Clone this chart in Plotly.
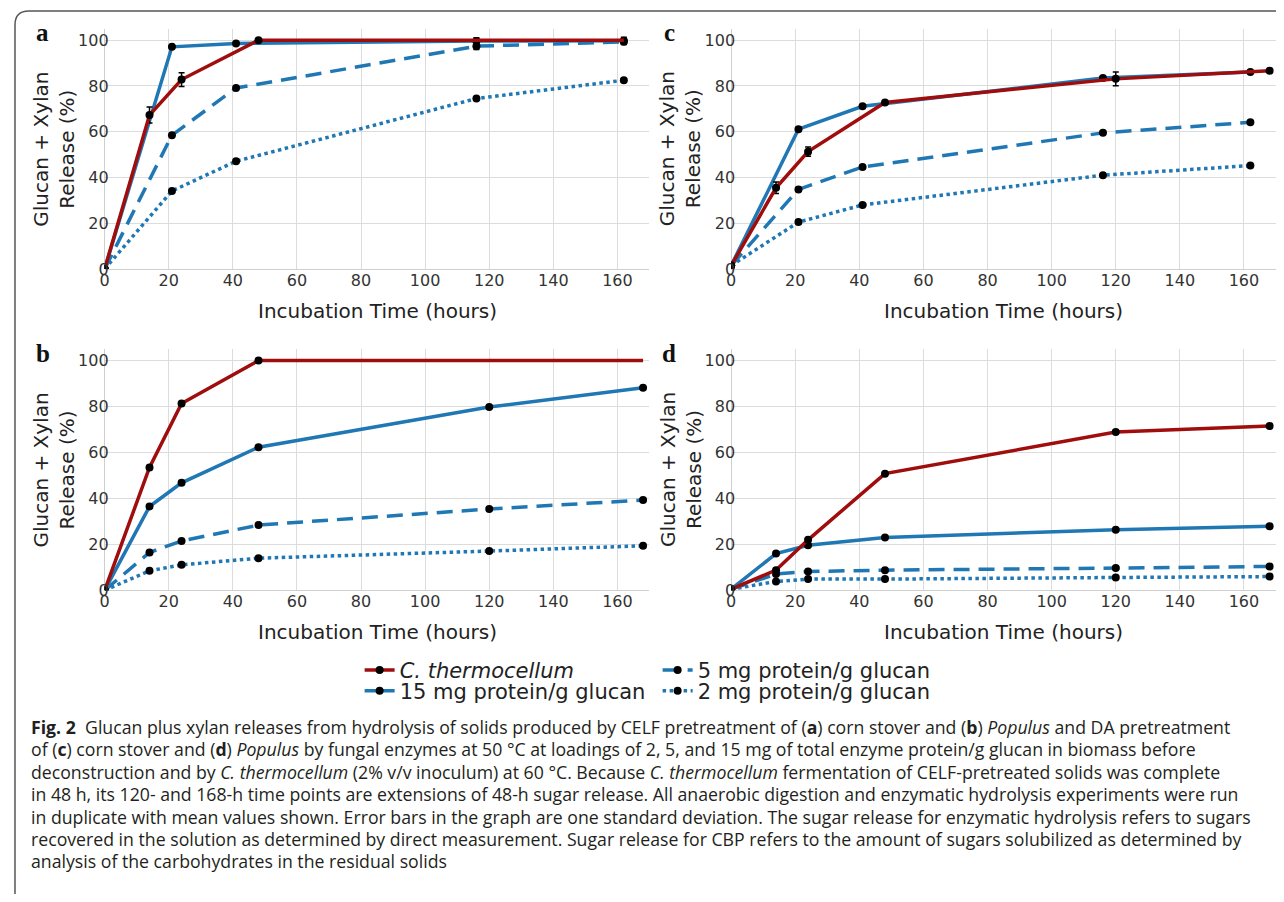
import plotly.graph_objects as go

# the page body has an 8px margin: size the figure so it fits the window
OFF = 8
FW, FH = 1284 - 2 * OFF, 902 - 2 * OFF


def px(p):
    return (p - OFF) / FW


def py(p):
    return 1 - (p - OFF) / FH


RED = "#a00d0d"
BLUE = "#1f77b4"

# ---------------- data ----------------
# Panel a: CELF corn stover
a_time_cbp = [0, 14, 24, 48]
a_cbp = [0, 67.3, 82.8, 100]
a_cbp_err = [None, 3.5, 3.0, None]
a_time_ext = [48, 116, 162]          # extension of the 48-h release
a_cbp_ext = [100, 100, 100]
a_time_enz = [0, 21, 41, 116, 162]
a_15 = [0, 97.1, 98.6, 99.6, 99.8]
a_15_err = [None, None, None, 1.5, 1.5]
a_5 = [0, 58.5, 79.1, 97.4, 99.3]
a_5_err = [None, None, None, 1.5, 1.2]
a_2 = [0, 34.1, 47.1, 74.5, 82.5]

# Panel c: DA corn stover
c_time_cbp = [0, 14, 24, 48, 120, 168]
c_cbp = [1.5, 35.5, 51.3, 72.8, 83.1, 86.7]
c_cbp_err = [None, 2.5, 2.0, None, 3.0, None]
c_time_enz = [0, 21, 41, 116, 162]
c_15 = [1.5, 61.1, 71.1, 83.5, 86.1]
c_5 = [1.5, 34.8, 44.6, 59.5, 64.1]
c_2 = [1.5, 20.5, 28.0, 41.0, 45.2]

# Panel b: CELF Populus
b_time_cbp = [0, 14, 24, 48]
b_cbp = [0, 53.5, 81.3, 100]
b_time_ext = [48, 120, 168]
b_cbp_ext = [100, 100, 100]
b_time = [0, 14, 24, 48, 120, 168]
b_15 = [0, 36.5, 46.8, 62.3, 79.8, 88.2]
b_5 = [0, 16.5, 21.5, 28.4, 35.4, 39.3]
b_2 = [0, 8.5, 11.1, 14.0, 17.1, 19.4]

# Panel d: DA Populus
d_time = [0, 14, 24, 48, 120, 168]
d_cbp = [0.5, 8.8, 22.0, 50.8, 68.9, 71.5]
d_15 = [0.5, 16.0, 19.6, 23.0, 26.4, 27.9]
d_5 = [0.5, 7.1, 8.2, 8.8, 9.7, 10.4]
d_2 = [0.5, 3.9, 4.9, 4.9, 5.6, 6.0]

series_names = ["<i>C. thermocellum</i>", "15 mg protein/g glucan",
                "5 mg protein/g glucan", "2 mg protein/g glucan"]
x_ticks = [0, 20, 40, 60, 80, 100, 120, 140, 160]
y_ticks = [0, 20, 40, 60, 80, 100]
panel_labels = ["a", "c", "b", "d"]
x_title = "Incubation Time (hours)"
y_title = "Glucan + Xylan<br>Release (%)"

caption_lines = [
    "<b>Fig. 2</b>  Glucan plus xylan releases from hydrolysis of solids produced by CELF pretreatment of (<b>a</b>) corn stover and (<b>b</b>) <i>Populus</i> and DA pretreatment",
    "of (<b>c</b>) corn stover and (<b>d</b>) <i>Populus</i> by fungal enzymes at 50 °C at loadings of 2, 5, and 15 mg of total enzyme protein/g glucan in biomass before",
    "deconstruction and by <i>C. thermocellum</i> (2% v/v inoculum) at 60 °C. Because <i>C. thermocellum</i> fermentation of CELF-pretreated solids was complete",
    "in 48 h, its 120- and 168-h time points are extensions of 48-h sugar release. All anaerobic digestion and enzymatic hydrolysis experiments were run",
    "in duplicate with mean values shown. Error bars in the graph are one standard deviation. The sugar release for enzymatic hydrolysis refers to sugars",
    "recovered in the solution as determined by direct measurement. Sugar release for CBP refers to the amount of sugars solubilized as determined by",
    "analysis of the carbohydrates in the residual solids",
]

# ---------------- layout geometry (page pixels) ----------------
panels = [
    dict(ax="", x0=100, x1=647, y0=29, y1=272,
         series=[(a_time_enz, a_15, a_15_err, 1),
                 (a_time_enz, a_5, a_5_err, 2),
                 (a_time_enz, a_2, None, 3),
                 (a_time_cbp, a_cbp, a_cbp_err, 0)],
         ext=(a_time_ext, a_cbp_ext)),
    dict(ax="2", x0=729, x1=1276, y0=29, y1=272,
         series=[(c_time_enz, c_15, None, 1),
                 (c_time_enz, c_5, None, 2),
                 (c_time_enz, c_2, None, 3),
                 (c_time_cbp, c_cbp, c_cbp_err, 0)],
         ext=None),
    dict(ax="3", x0=100, x1=647, y0=353, y1=597,
         series=[(b_time, b_15, None, 1),
                 (b_time, b_5, None, 2),
                 (b_time, b_2, None, 3),
                 (b_time_cbp, b_cbp, None, 0)],
         ext=(b_time_ext, b_cbp_ext)),
    dict(ax="4", x0=729, x1=1276, y0=353, y1=597,
         series=[(d_time, d_15, None, 1),
                 (d_time, d_5, None, 2),
                 (d_time, d_2, None, 3),
                 (d_time, d_cbp, None, 0)],
         ext=None),
]

styles = [
    dict(color=RED, dash="solid", legend="legend", rank=1),
    dict(color=BLUE, dash="solid", legend="legend2", rank=3),
    dict(color=BLUE, dash="16px,9px", legend="legend", rank=2),
    dict(color=BLUE, dash="dot", legend="legend2", rank=4),
]

fig = go.Figure()
TICKFONT = dict(family="DejaVu Sans", size=16, color="#333333")
GRID = "#dcdcdc"
LW = 3.5

annotations = []
for pi, p in enumerate(panels):
    xr, yr = "x" + p["ax"], "y" + p["ax"]
    for (xs, ys, err, si) in p["series"]:
        st = styles[si]
        if si == 0 and p["ext"] is not None:
            fig.add_trace(go.Scatter(
                x=p["ext"][0], y=p["ext"][1], mode="lines",
                line=dict(color=st["color"], width=LW),
                xaxis=xr, yaxis=yr, showlegend=False, hoverinfo="skip"))
        eb = dict(visible=False)
        if err is not None:
            eb = dict(type="data", array=err, visible=True, color="black",
                      thickness=1.5, width=3)
        fig.add_trace(go.Scatter(
            x=xs, y=ys, mode="lines+markers", name=series_names[si],
            line=dict(color=st["color"], width=LW, dash=st["dash"]),
            marker=dict(color="black", size=8),
            error_y=eb,
            xaxis=xr, yaxis=yr,
            legend=st["legend"], legendrank=st["rank"],
            legendgroup=series_names[si],
            showlegend=(pi == 0),
        ))
    xa = dict(domain=[px(p["x0"]), px(p["x1"])], range=[0, 170],
              tickvals=x_ticks, showgrid=True, gridcolor=GRID, gridwidth=1,
              zeroline=True, zerolinecolor="#cfcfcf", zerolinewidth=1,
              showline=False, ticks="", tickfont=TICKFONT,
              anchor=yr, fixedrange=True)
    ya = dict(domain=[py(p["y1"]), py(p["y0"])], range=[0, 105],
              tickvals=y_ticks, showgrid=True, gridcolor=GRID, gridwidth=1,
              zeroline=True, zerolinecolor="#cfcfcf", zerolinewidth=1,
              showline=False, ticks="", tickfont=TICKFONT,
              ticklabelstandoff=-5,
              anchor=xr, fixedrange=True)
    fig.layout["xaxis" + p["ax"]] = xa
    fig.layout["yaxis" + p["ax"]] = ya

    xc = (p["x0"] + p["x1"]) / 2
    yc = (p["y0"] + p["y1"]) / 2
    annotations.append(dict(text=x_title, x=px(xc), y=py(p["y1"] + 42),
                            xref="paper", yref="paper", showarrow=False,
                            xanchor="center", yanchor="middle",
                            font=dict(family="DejaVu Sans", size=20, color="#222222")))
    annotations.append(dict(text=y_title, x=px(p["x0"] - 51), y=py(yc),
                            xref="paper", yref="paper", showarrow=False,
                            textangle=-90, xanchor="center", yanchor="middle",
                            font=dict(family="DejaVu Sans", size=20, color="#222222")))
    annotations.append(dict(text="<b>%s</b>" % panel_labels[pi],
                            x=px(p["x0"] - 62), y=py(p["y0"] + 4),
                            xref="paper", yref="paper", showarrow=False,
                            xanchor="center", yanchor="middle",
                            font=dict(family="Liberation Serif", size=25, color="#111111")))

for i, line in enumerate(caption_lines):
    annotations.append(dict(text=line, x=px(24), y=py(735 + 22.7 * i),
                            xref="paper", yref="paper", showarrow=False,
                            xanchor="left", yanchor="middle", align="left",
                            font=dict(family="Open Sans", size=17.7, color="#231f20")))

LEGFONT = dict(family="DejaVu Sans", size=21, color="#222222")
fig.update_layout(
    width=FW, height=FH,
    margin=dict(l=0, r=0, t=0, b=0),
    paper_bgcolor="white", plot_bgcolor="white",
    annotations=annotations,
    legend=dict(orientation="h", x=px(356), y=py(678), xanchor="left",
                yanchor="middle", entrywidth=253, entrywidthmode="pixels",
                font=LEGFONT, bgcolor="rgba(0,0,0,0)", itemwidth=30,
                traceorder="normal"),
    legend2=dict(orientation="h", x=px(356), y=py(699), xanchor="left",
                 yanchor="middle", entrywidth=253, entrywidthmode="pixels",
                 font=LEGFONT, bgcolor="rgba(0,0,0,0)", itemwidth=30,
                 traceorder="normal"),
    shapes=[dict(type="path", xref="paper", yref="paper",
                 path="M %f %f L %f %f Q %f %f %f %f L %f %f" % (
                     px(1290), py(11), px(24), py(11), px(10), py(11), px(10), py(25),
                     px(10), py(905)),
                 line=dict(color="#555555", width=1.5))],
)

fig.write_html("out.html")
